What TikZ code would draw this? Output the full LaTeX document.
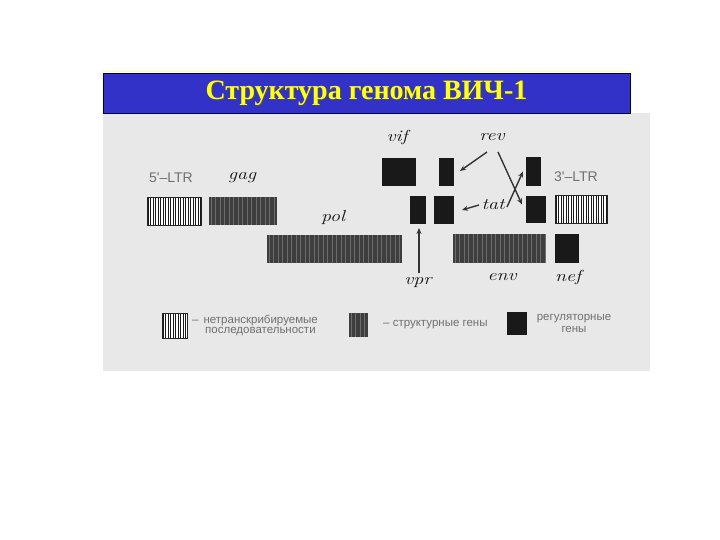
\documentclass[tikz,border=0pt]{standalone}
\usepackage{fontspec}
\setmainfont{Liberation Serif}
\newfontfamily\lsans{Liberation Sans}
\newfontfamily\lmfont{Latin Modern Roman}
\usetikzlibrary{arrows.meta,calc}
\definecolor{barblue}{HTML}{3232C8}
\definecolor{photo}{HTML}{E8E8E8}
\definecolor{titleyellow}{HTML}{FFFF1E}
\definecolor{inkgray}{HTML}{707070}
\definecolor{structbase}{HTML}{3E3E3E}
\definecolor{structline}{HTML}{6C6C6C}
\newcommand{\genetext}[1]{\scalebox{1.25}[1]{\lmfont\itshape #1}}
\begin{document}
\begin{tikzpicture}[x=1pt,y=-1pt,
  box/.style={anchor=north west, inner sep=0pt, outer sep=0pt},
  ltrpat/.style={box, draw=black!85, line width=0.5pt, fill=white,
    path picture={\foreach \k in {1.2,3.7,...,120}
      \draw[line width=#1, black!90] ([xshift=\k pt]path picture bounding box.south west) -- ([xshift=\k pt]path picture bounding box.north west);}},
  structpat/.style={box, fill=structbase,
    path picture={\foreach \k in {2,6.5,...,160}
      \draw[line width=0.9pt, structline] ([xshift=\k pt]path picture bounding box.south west) -- ([xshift=\k pt]path picture bounding box.north west);}},
  regpat/.style={box, fill=black!90},
  genelabel/.style={font=\fontsize{16}{16}\selectfont, text=black!92, inner sep=0pt},
  ltrlabel/.style={font=\lsans\fontsize{14}{14}\selectfont, text=inkgray, inner sep=0pt},
  legendtext/.style={font=\lsans\fontsize{11.5}{12}\selectfont, text=inkgray, inner sep=0pt},
  arr/.style={line width=1.4pt, draw=black!80, -{Stealth[length=6pt,width=5pt]}}
]
\useasboundingbox (0,0) rectangle (720,540);
\fill[white] (0,0) rectangle (720,540);
% photograph background
\fill[photo] (103,113) rectangle (650,371);
% title bar
\draw[titleyellow!40, line width=1pt] (102,72) rectangle (631,114);
\node[box, fill=barblue, draw=black!70!blue, line width=0.8pt, minimum width=527pt, minimum height=40pt] (bar) at (103,73) {};
\node[font=\bfseries\fontsize{28}{28}\selectfont, text=black!70, inner sep=0pt] (titleshadow) at ($(bar.center)+(1.2,1.4)$) {Структура генома ВИЧ-1};
\node[font=\bfseries\fontsize{28}{28}\selectfont, text=titleyellow, inner sep=0pt] (title) at (bar.center) {Структура генома ВИЧ-1};

% genome boxes
\node[ltrpat=1.4pt, minimum width=54pt, minimum height=28pt] (ltr5) at (147,197) {};
\node[structpat, minimum width=68pt, minimum height=28pt] (gag) at (209,197) {};
\node[structpat, minimum width=135pt, minimum height=28pt] (pol) at (267,235) {};
\node[regpat, minimum width=34pt, minimum height=28pt] (vif) at (382,158) {};
\node[regpat, minimum width=15pt, minimum height=28pt] (rev1) at (439,158) {};
\node[regpat, minimum width=16pt, minimum height=28pt] (vpr) at (410,196) {};
\node[regpat, minimum width=20pt, minimum height=28pt] (tat1) at (434,196) {};
\node[regpat, minimum width=15pt, minimum height=29pt] (rev2) at (526,157) {};
\node[regpat, minimum width=20pt, minimum height=27pt] (tat2) at (526,196) {};
\node[ltrpat=0.8pt, minimum width=52pt, minimum height=28pt] (ltr3) at (555,195) {};
\node[structpat, minimum width=93pt, minimum height=29pt] (env) at (453,234) {};
\node[regpat, minimum width=24pt, minimum height=29pt] (nef) at (555,234) {};

% labels
\node[ltrlabel] (l5) at (171,178) {5'–LTR};
\node[ltrlabel] (l3) at (576,177) {3'–LTR};
\node[genelabel] (lgag) at (242,178) {\genetext{gag}};
\node[genelabel] (lpol) at (333,218) {\genetext{pol}};
\node[genelabel] (lvif) at (397,138) {\genetext{vif}};
\node[genelabel] (lrev) at (492,137) {\genetext{rev}};
\node[genelabel] (ltat) at (493,205) {\genetext{tat}};
\node[genelabel] (lvpr) at (418,283) {\genetext{vpr}};
\node[genelabel] (lenv) at (502,277) {\genetext{env}};
\node[genelabel] (lnef) at (568,277) {\genetext{nef}};

% arrows
\draw[arr] ($(lrev.center)+(-5,15)$) -- ($(rev1.east)+(6,-1)$);
\draw[arr] ($(lrev.center)+(6,15)$) -- ($(tat2.west)+(-4,-5)$);
\draw[arr] ($(ltat.center)+(14,2)$) -- ($(rev2.west)+(-3,0)$);
\draw[arr] ($(ltat.center)+(-14,0)$) -- ($(tat1.east)+(8,0)$);
\draw[arr] ($(lvpr.center)+(1,-10)$) -- ($(vpr.south)+(1,4)$);

% legend
\node[ltrpat=1.1pt, minimum width=25pt, minimum height=25pt] (kltr) at (162,313) {};
\node[structpat, minimum width=19pt, minimum height=24pt] (kstruct) at (349,313) {};
\node[regpat, minimum width=20pt, minimum height=23pt] (kreg) at (507,312) {};
\node[legendtext, anchor=west] (tltr1) at (192,320) {–\hspace{5pt}нетранскрибируемые};
\node[legendtext, anchor=west] (tltr2) at (205,332) {последовательности};
\node[legendtext, anchor=west] (tstruct) at (383,325) {– структурные гены};
\node[legendtext, align=center] (treg) at (574,323) {регуляторные\\гены};
\end{tikzpicture}
\end{document}
